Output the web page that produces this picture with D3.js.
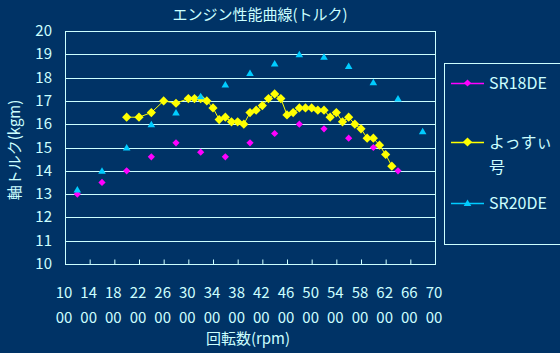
<!DOCTYPE html>
<html>
<head>
<meta charset="utf-8">
<script src="https://cdn.jsdelivr.net/npm/d3@7"></script>
<style>
  body { margin: 0; background: #003366; }
  text { font-family: "Noto Sans CJK JP", "Noto Sans", sans-serif; fill: #ccffff; }
</style>
</head>
<body>
<div id="chart"></div>
<script>
// SR18DE
const rpm18 = [1200, 1600, 2000, 2400, 2800, 3200, 3600, 4000, 4400, 4800, 5200, 5600, 6000, 6400];
const torque18 = [13.0, 13.5, 14.0, 14.6, 15.2, 14.8, 14.6, 15.2, 15.6, 16.0, 15.8, 15.4, 15.0, 14.0];

// よっすぃ号
const rpmYossy = [2000, 2200, 2400, 2600, 2800, 3000, 3100, 3200, 3300, 3400, 3500, 3600, 3700, 3800, 3900,
    4000, 4100, 4200, 4300, 4400, 4500, 4600, 4700, 4800, 4900, 5000, 5100, 5200, 5300, 5400, 5500,
    5600, 5700, 5800, 5900, 6000, 6100, 6200, 6300];
const torqueYossy = [16.3, 16.3, 16.5, 17.0, 16.9, 17.1, 17.1, 17.1, 17.0, 16.7, 16.2, 16.3, 16.1, 16.1, 16.0,
    16.5, 16.6, 16.8, 17.1, 17.3, 17.1, 16.4, 16.5, 16.7, 16.7, 16.7, 16.6, 16.6, 16.3, 16.5, 16.1,
    16.3, 16.0, 15.8, 15.4, 15.4, 15.1, 14.7, 14.2];

// SR20DE
const rpm20 = [1200, 1600, 2000, 2400, 2800, 3200, 3600, 4000, 4400, 4800, 5200, 5600, 6000, 6400, 6800];
const torque20 = [13.2, 14.0, 15.0, 16.0, 16.5, 17.2, 17.7, 18.2, 18.6, 19.0, 18.9, 18.5, 17.8, 17.1, 15.7];

const xTicks = ["1000", "1400", "1800", "2200", "2600", "3000", "3400", "3800", "4200", "4600",
    "5000", "5400", "5800", "6200", "6600", "7000"];
const yTicks = [10, 11, 12, 13, 14, 15, 16, 17, 18, 19, 20];

const W = 560, H = 353;
const plot = { left: 65, right: 435, top: 31, bottom: 264 };
const ink = "#ccffff";

const svg = d3.select("#chart").append("svg")
    .attr("width", W)
    .attr("height", H);

svg.append("rect").attr("width", W).attr("height", H).attr("fill", "#003366");

const x = d3.scaleLinear().domain([1000, 7000]).range([plot.left, plot.right]);
const y = d3.scaleLinear().domain([10, 20]).range([plot.bottom, plot.top]);

// gridlines
svg.append("g")
    .selectAll("line")
    .data(yTicks)
    .join("line")
    .attr("x1", plot.left).attr("x2", plot.right)
    .attr("y1", d => Math.round(y(d)) + 0.5).attr("y2", d => Math.round(y(d)) + 0.5)
    .attr("stroke", ink).attr("stroke-width", 1);

// plot border
svg.append("rect")
    .attr("x", plot.left + 0.5).attr("y", plot.top + 0.5)
    .attr("width", plot.right - plot.left).attr("height", plot.bottom - plot.top)
    .attr("fill", "none").attr("stroke", ink);

// x axis: inside ticks, wrapped labels
const xAxis = svg.append("g")
    .attr("transform", `translate(0,${plot.bottom + 0.5})`)
    .call(d3.axisBottom(x).tickValues(xTicks.map(Number)).tickSize(-5).tickFormat(""));
xAxis.select(".domain").remove();
xAxis.selectAll(".tick line").attr("stroke", ink);

const xLab = svg.append("g").selectAll("text")
    .data(xTicks)
    .join("text")
    .attr("text-anchor", "middle")
    .attr("font-size", 15);
xLab.append("tspan").attr("x", d => x(+d) - 1).attr("y", 298).text(d => d.slice(0, 2));
xLab.append("tspan").attr("x", d => x(+d) - 1).attr("y", 323).text(d => d.slice(2));

// y axis labels
svg.append("g").selectAll("text")
    .data(yTicks)
    .join("text")
    .attr("x", 52)
    .attr("y", d => y(d) + 5)
    .attr("text-anchor", "end")
    .attr("font-size", 15)
    .text(d => d);

// titles
svg.append("text")
    .attr("x", 260).attr("y", 20)
    .attr("text-anchor", "middle")
    .attr("font-size", 15)
    .text("エンジン性能曲線(トルク)");

svg.append("text")
    .attr("x", 248).attr("y", 344)
    .attr("text-anchor", "middle")
    .attr("font-size", 15)
    .text("回転数(rpm)");

svg.append("text")
    .attr("transform", "translate(20,150) rotate(-90)")
    .attr("text-anchor", "middle")
    .attr("font-size", 15)
    .text("軸トルク(kgm)");

// markers
const diamond = r => `M0,${-r}L${r},0L0,${r}L${-r},0Z`;
const triangle = "M0,-3.5L3.8,3L-3.8,3Z";

const series = [
    { name: "SR18DE", rpm: rpm18, val: torque18, color: "#ff00ff", shape: diamond(3.6), line: false },
    { name: "よっすぃ号", rpm: rpmYossy, val: torqueYossy, color: "#ffff00", shape: diamond(4.6), line: true },
    { name: "SR20DE", rpm: rpm20, val: torque20, color: "#00ccff", shape: triangle, line: false }
];

series.forEach(s => {
    const pts = s.rpm.map((r, i) => [r, s.val[i]]);
    if (s.line) {
        svg.append("path")
            .datum(pts)
            .attr("fill", "none")
            .attr("stroke", s.color)
            .attr("stroke-width", 1)
            .attr("d", d3.line().x(d => x(d[0])).y(d => y(d[1])));
    }
    svg.append("g").selectAll("path")
        .data(pts)
        .join("path")
        .attr("transform", d => `translate(${x(d[0])},${y(d[1])})`)
        .attr("d", s.shape)
        .attr("fill", s.color);
});

// legend
const legend = svg.append("g");
legend.append("rect")
    .attr("x", 444.5).attr("y", 63.5)
    .attr("width", 130).attr("height", 181)
    .attr("fill", "none").attr("stroke", ink);

const legendY = [83, 142, 203];
series.forEach((s, i) => {
    const ly = legendY[i];
    legend.append("line")
        .attr("x1", 451).attr("x2", 484)
        .attr("y1", ly + 0.5).attr("y2", ly + 0.5)
        .attr("stroke", s.color).attr("stroke-width", 1.5);
    legend.append("path")
        .attr("transform", `translate(467.5,${ly})`)
        .attr("d", s.shape)
        .attr("fill", s.color);
    const t = legend.append("text")
        .attr("x", 489).attr("y", ly + 6)
        .attr("font-size", 16);
    if (s.name === "よっすぃ号") {
        t.append("tspan").attr("x", 489).text("よっすぃ");
        t.append("tspan").attr("x", 489).attr("dy", 25).text("号");
    } else {
        t.text(s.name);
    }
});
</script>
</body>
</html>
